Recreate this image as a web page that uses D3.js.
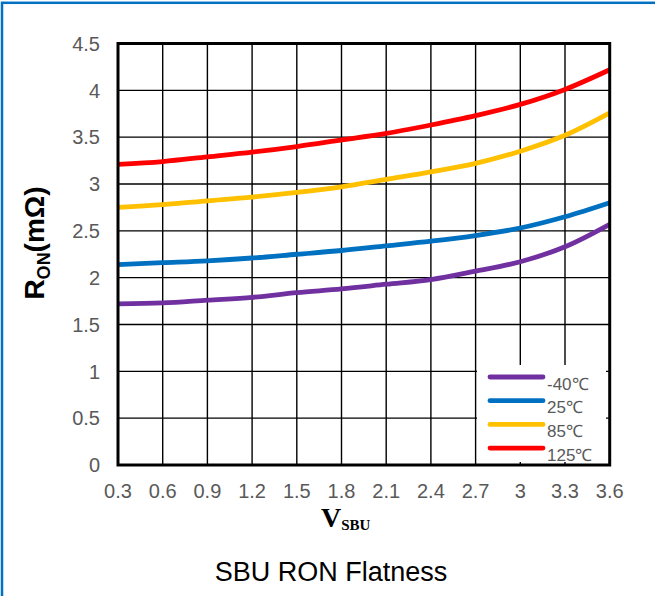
<!DOCTYPE html>
<html><head><meta charset="utf-8">
<script src="https://cdn.jsdelivr.net/npm/d3@7"></script>
<style>html,body{margin:0;padding:0;background:#fff;}</style>
</head><body>
<script>
const vsbu = [0.3,0.6,0.9,1.2,1.5,1.8,2.1,2.4,2.7,3.0,3.3,3.6];
const xTickLabels = ["0.3","0.6","0.9","1.2","1.5","1.8","2.1","2.4","2.7","3","3.3","3.6"];
const yTicks = [0,0.5,1,1.5,2,2.5,3,3.5,4,4.5];
const seriesNames = ["-40℃","25℃","85℃","125℃"];
const seriesColors = ["#7030A0","#0070C0","#FFC000","#FF0000"];
const rM40 = [1.72,1.73,1.76,1.79,1.84,1.88,1.93,1.98,2.07,2.17,2.33,2.57];
const r25  = [2.14,2.16,2.18,2.21,2.25,2.29,2.34,2.39,2.45,2.53,2.65,2.80];
const r85  = [2.75,2.78,2.82,2.86,2.91,2.97,3.05,3.13,3.22,3.35,3.52,3.76];
const r125 = [3.21,3.24,3.29,3.34,3.40,3.47,3.54,3.63,3.73,3.85,4.01,4.22];
const seriesValues = [rM40, r25, r85, r125];

const W = 655, H = 596;
const svg = d3.select("body").append("svg").attr("width", W).attr("height", H);
svg.append("rect").attr("width", W).attr("height", H).attr("fill", "#fff");

const x = d3.scaleLinear().domain([0.3, 3.6]).range([118, 609.7]);
const y = d3.scaleLinear().domain([0, 4.5]).range([465, 43.5]);

// outer blue frame (only top and left visible)
svg.append("rect").attr("x", 2).attr("y", 2.8).attr("width", W + 20).attr("height", H + 20)
  .attr("fill", "none").attr("stroke", "#0070C0").attr("stroke-width", 2.5);

// grid
const g = svg.append("g");
g.selectAll("line.v").data(vsbu.slice(1, -1)).enter().append("line")
  .attr("x1", d => x(d)).attr("x2", d => x(d)).attr("y1", y(4.5)).attr("y2", y(0))
  .attr("stroke", "#000").attr("stroke-width", 1.4);
g.selectAll("line.h").data(yTicks.slice(1, -1)).enter().append("line")
  .attr("y1", d => y(d)).attr("y2", d => y(d)).attr("x1", x(0.3)).attr("x2", x(3.6))
  .attr("stroke", "#000").attr("stroke-width", 1.4);

// series lines
const line = d3.line().x((d, i) => x(vsbu[i])).y(d => y(d)).curve(d3.curveMonotoneX);
seriesValues.forEach((vals, k) => {
  svg.append("path").attr("d", line(vals)).attr("fill", "none")
    .attr("stroke", seriesColors[k]).attr("stroke-width", 4.8).attr("stroke-linejoin", "round");
});

// legend box
svg.append("rect").attr("x", 477).attr("y", 365).attr("width", 129).attr("height", 97).attr("fill", "#fff");
const leg = svg.append("g");
seriesNames.forEach((name, k) => {
  const ly = 377 + k * 23.7;
  leg.append("line").attr("x1", 490).attr("x2", 543).attr("y1", ly).attr("y2", ly)
    .attr("stroke", seriesColors[k]).attr("stroke-width", 4.8).attr("stroke-linecap", "round");
  leg.append("text").attr("x", 547).attr("y", ly + 12.5).text(name)
    .attr("font-family", "Liberation Sans, Arial, sans-serif").attr("font-size", 17).attr("fill", "#595959");
});

// plot border
svg.append("rect").attr("x", x(0.3)).attr("y", y(4.5)).attr("width", x(3.6) - x(0.3)).attr("height", y(0) - y(4.5))
  .attr("fill", "none").attr("stroke", "#000").attr("stroke-width", 3);

// y tick labels
svg.append("g").selectAll("text").data(yTicks).enter().append("text")
  .attr("x", 100).attr("y", d => y(d)).attr("dy", "0.36em").attr("text-anchor", "end")
  .attr("font-family", "Liberation Sans, Arial, sans-serif").attr("font-size", 20).attr("fill", "#595959")
  .text(d => String(d));

// x tick labels
svg.append("g").selectAll("text").data(vsbu).enter().append("text")
  .attr("x", d => x(d)).attr("y", 498).attr("text-anchor", "middle")
  .attr("font-family", "Liberation Sans, Arial, sans-serif").attr("font-size", 20).attr("fill", "#595959")
  .text((d, i) => xTickLabels[i]);

// y axis title
const yt = svg.append("text").attr("transform", "translate(44,243) rotate(-90)").attr("text-anchor", "middle")
  .attr("font-family", "Liberation Sans, Arial, sans-serif").attr("font-weight", "bold").attr("font-size", 28).attr("fill", "#000");
yt.append("tspan").text("R");
yt.append("tspan").attr("font-size", 18).attr("dy", 6).text("ON");
yt.append("tspan").attr("dy", -6).text("(mΩ)");

// x axis title
const xt = svg.append("text").attr("x", 321).attr("y", 527)
  .attr("font-family", "Liberation Serif, Times New Roman, serif").attr("font-weight", "bold").attr("font-size", 28).attr("fill", "#000");
xt.append("tspan").text("V");
xt.append("tspan").attr("font-size", 15).attr("dy", 3).text("SBU");

// chart title
svg.append("text").attr("x", 331).attr("y", 581).attr("text-anchor", "middle")
  .attr("font-family", "Liberation Sans, Arial, sans-serif").attr("font-size", 27).attr("fill", "#000")
  .text("SBU RON Flatness");
</script>
</body></html>
